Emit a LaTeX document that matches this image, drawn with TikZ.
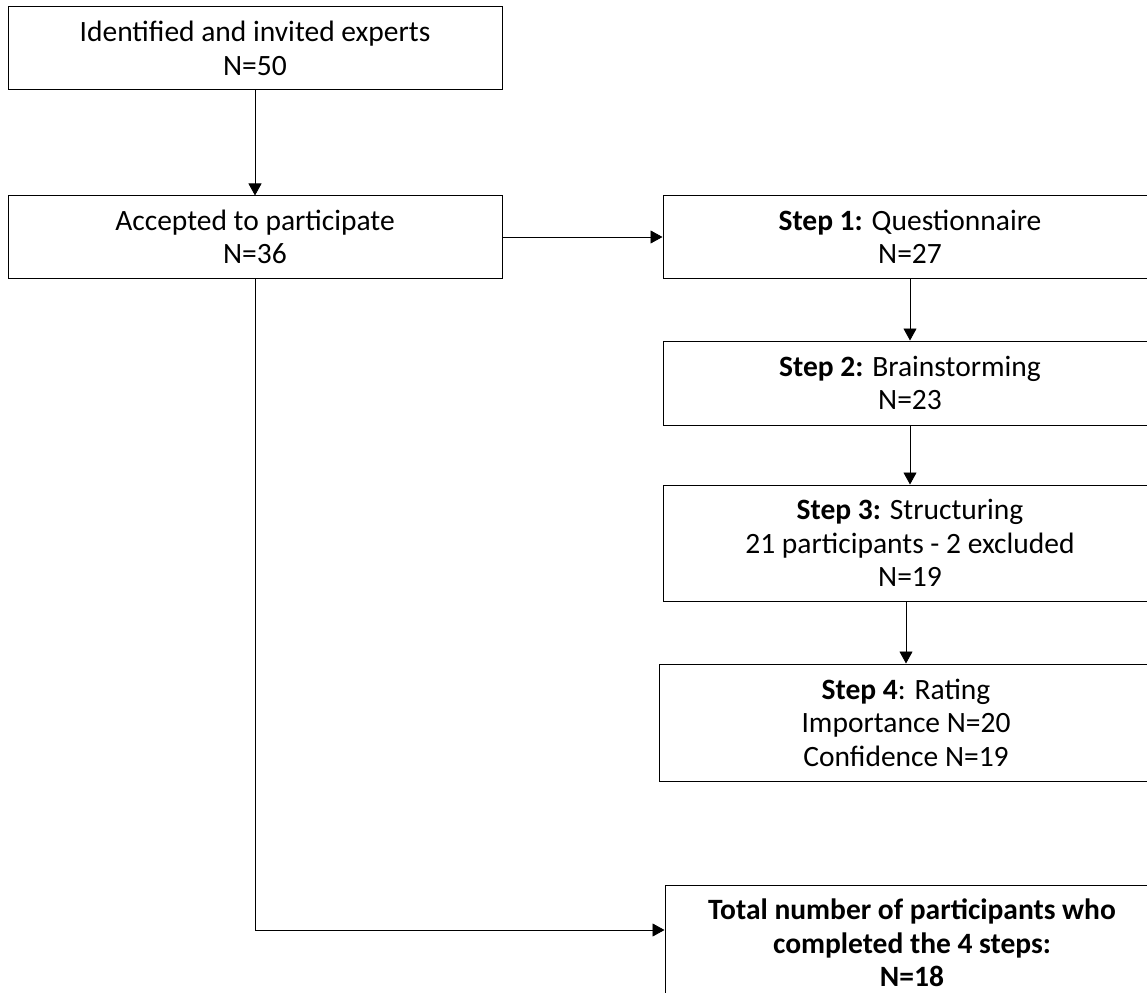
\documentclass[tikz,border=0pt]{standalone}
\usepackage{fontspec}
\setmainfont{Carlito}
\usepackage{tikz}
\usetikzlibrary{arrows.meta,positioning}

\begin{document}
\begin{tikzpicture}[
    x=1pt, y=-1pt,
    font=\fontsize{29.5}{33.5}\selectfont,
    box/.style={draw, line width=1pt, minimum width=494pt, minimum height=82pt, align=center, inner sep=0pt},
    arrow/.style={-{Triangle[length=12pt,width=13pt]}, line width=0.9pt}
]
\useasboundingbox (0,0) rectangle (1147,992);

\node[box, minimum height=83pt] (ident) at (255,48.5) {Identified and invited experts\\N=50};
\node[box, below=105pt of ident] (accept) {Accepted to participate\\N=36};
\node[box, right=160pt of accept] (s1) {\textbf{Step 1:} Questionnaire\\N=27};
\node[box, below=62pt of s1, minimum height=84pt] (s2) {\textbf{Step 2:} Brainstorming\\N=23};
\node[box, below=59pt of s2, minimum height=116pt] (s3) {\textbf{Step 3:} Structuring\\21 participants - 2 excluded\\N=19};
\node[box, below=62pt of s3, xshift=-4pt, minimum height=117pt] (s4) {\textbf{Step 4}: Rating\\Importance N=20\\Confidence N=19};
\node[box, below=103pt of s4, xshift=6pt, minimum height=116pt, font=\fontsize{29.5}{33.5}\selectfont\bfseries] (total) {Total number of participants who\\completed the 4 steps:\\N=18};

\draw[arrow] (ident) -- (accept);
\draw[arrow] (accept) -- (s1);
\draw[arrow] (s1) -- (s2);
\draw[arrow] (s2) -- (s3);
\draw[arrow] (s4.north |- s3.south) -- (s4);
\draw[arrow] (accept.south) |- ([yshift=13pt]total.west);
\end{tikzpicture}
\end{document}
